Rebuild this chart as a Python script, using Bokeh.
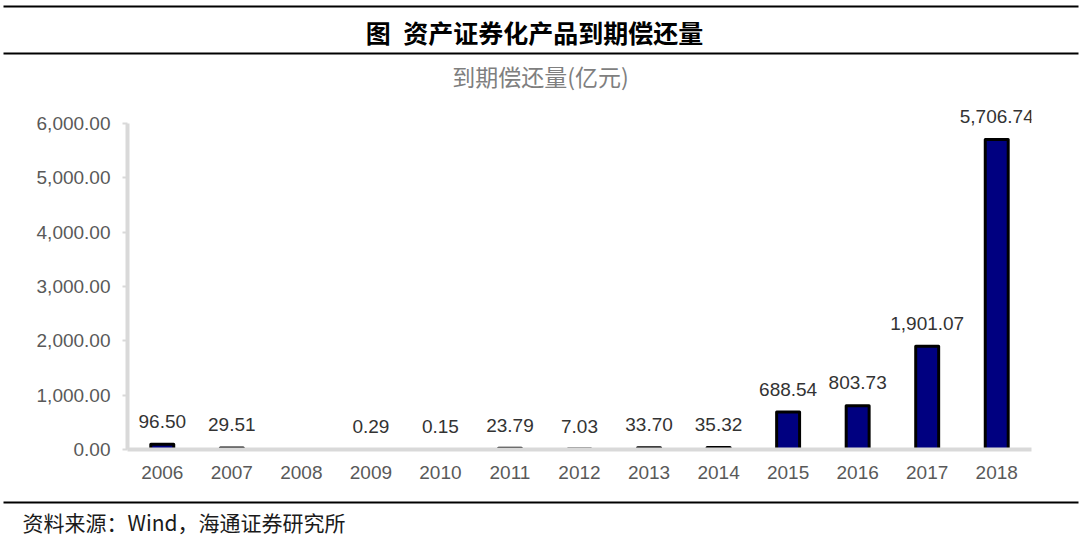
import math
from bokeh.plotting import figure
from bokeh.models import Range1d, FactorRange, FixedTicker, NumeralTickFormatter, ColumnDataSource
from bokeh.layouts import column
from bokeh.embed import file_html
from bokeh.resources import INLINE
from bokeh.core.properties import value

# ---- data ----
years = ["2006", "2007", "2008", "2009", "2010", "2011", "2012",
         "2013", "2014", "2015", "2016", "2017", "2018"]
amounts = [96.50, 29.51, None, 0.29, 0.15, 23.79, 7.03,
           33.70, 35.32, 688.54, 803.73, 1901.07, 5706.74]
y_ticks = [0, 1000, 2000, 3000, 4000, 5000, 6000]
title_text = "图\u2002资产证券化产品到期偿还量"
subtitle_text = "到期偿还量(亿元)"
source_text = "资料来源：Wind，海通证券研究所"

W = 1080
CJK = "Noto Sans CJK SC"
LAT = "Liberation Sans"


def blank(h):
    f = figure(width=W, height=h, x_range=Range1d(0, W), y_range=Range1d(h, 0),
               output_backend="svg", toolbar_location=None, frame_align=False,
               x_axis_location=None, y_axis_location=None, min_border=0)
    f.grid.visible = False
    f.outline_line_color = None
    return f


# ---- header ----
HH = 100
header = blank(HH)
header.segment(x0=[3, 3], y0=[6, 53], x1=[1078, 1078], y1=[6, 53], line_color="black", line_width=2)
header.text(x=[W / 2 - 6], y=[31], text=[title_text], text_font=value(CJK), text_font_style="bold",
            text_font_size="25px", text_align="center", text_baseline="middle", text_color="black")
header.text(x=[W / 2], y=[75], text=[subtitle_text], text_font=value(CJK),
            text_font_size="23px", text_align="center", text_baseline="middle", text_color="#7f7f7f")

# ---- main chart ----
vals = [float("nan") if v is None else v for v in amounts]
labels = ["" if v is None else f"{v:,.2f}" for v in amounts]
src = ColumnDataSource(dict(year=years, amount=vals, label=labels))

PH = 392
p = figure(width=W, height=PH, x_range=FactorRange(factors=years),
           y_range=Range1d(0, 6423), output_backend="svg", toolbar_location=None,
           frame_align=False,
           min_border_left=127, min_border_right=49, min_border_top=0, min_border_bottom=43)
p.grid.visible = False
p.outline_line_color = None

p.vbar(x="year", top="amount", width=0.33, source=src, fill_color="#000080",
       line_color="black", line_width=3, line_join="round")
p.text(x="year", y="amount", text="label", source=src, y_offset=-23,
       text_baseline="middle", text_align="center", text_font=value(LAT),
       text_font_size="19px", text_color="#333333")

xa = p.xaxis[0]
xa.axis_line_color = "#d9d9d9"
xa.axis_line_width = 4
xa.major_tick_line_color = None
xa.minor_tick_line_color = None
xa.major_label_text_font = LAT
xa.major_label_text_font_size = "19px"
xa.major_label_text_color = "#595959"
xa.major_label_standoff = 10

ya = p.yaxis[0]
ya.ticker = FixedTicker(ticks=y_ticks)
ya.formatter = NumeralTickFormatter(format="0,0.00")
ya.bounds = (0, 6000)
ya.axis_line_color = "#d9d9d9"
ya.axis_line_width = 4
ya.major_tick_line_color = "#d9d9d9"
ya.major_tick_line_width = 2
ya.major_tick_out = 5
ya.major_tick_in = 0
ya.minor_tick_line_color = None
ya.major_label_text_font = LAT
ya.major_label_text_font_size = "19px"
ya.major_label_text_color = "#595959"
ya.major_label_standoff = 12

# ---- footer ----
FH = 47
footer = blank(FH)
footer.segment(x0=[3], y0=[10], x1=[1078], y1=[10], line_color="black", line_width=2)
footer.text(x=[22], y=[29], text=[source_text], text_font=value(CJK), text_font_size="21px",
            text_align="left", text_baseline="middle", text_color="#1a1a1a")

layout = column(header, p, footer, spacing=0)
open("out.html", "w").write(file_html(layout, INLINE))
